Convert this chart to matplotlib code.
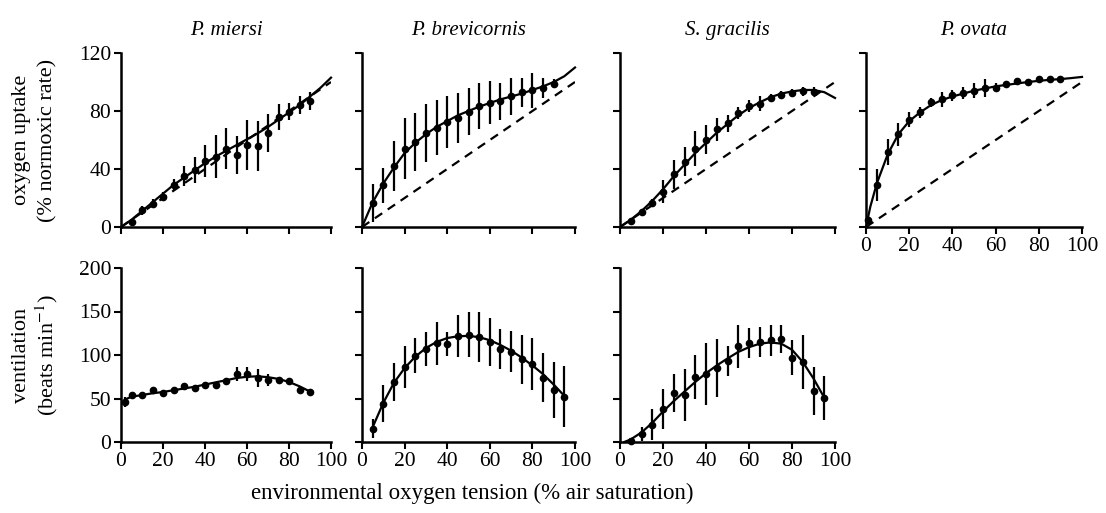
import matplotlib
matplotlib.use("Agg")
import matplotlib.pyplot as plt

plt.rcParams['font.family'] = ['Liberation Serif', 'DejaVu Serif']
plt.rcParams['mathtext.fontset'] = 'stix'

W, H = 1106, 513

species = ["P. miersi", "P. brevicornis", "S. gracilis", "P. ovata"]

# fitted curves, sampled every 5 % air saturation
curve_x = [0, 5, 10, 15, 20, 25, 30, 35, 40, 45, 50, 55, 60, 65, 70, 75, 80, 85, 90, 95, 100]

# --- oxygen uptake (% normoxic rate) ---
up_x = [5, 10, 15, 20, 25, 30, 35, 40, 45, 50, 55, 60, 65, 70, 75, 80, 85, 90]

miersi_up = [3.5, 11.5, 16, 21, 29, 35, 39, 45.7, 48.5, 54, 49.6, 56.5, 55.8, 64.6, 75.7, 79.6, 84, 87]
miersi_up_err = [2, 3, 3, 3, 4, 7, 9, 11, 15, 14, 13, 17, 17, 13, 9, 6, 6, 6]
miersi_up_fit = [0, 5, 11, 17, 23, 29, 34, 39, 44, 48.5, 52.5, 56.5, 60.5, 64.5, 69, 74, 79, 84, 90, 96, 103]

brev_up = [16.6, 28.7, 42, 54, 58.6, 64.5, 68.5, 72.3, 75.1, 79.6, 83.5, 85.7, 86.6, 90, 93, 94.4, 96, 98.8]
brev_up_err = [13, 12, 17, 21, 20, 20, 19, 18, 17, 16, 16, 15, 13, 13, 10, 12, 7, 3]
brev_up_fit = [0, 17, 30, 41, 51, 58, 64, 69, 73, 77, 80, 83, 85.5, 88, 90, 92, 94.5, 97, 100, 104, 110]

grac_up = [4.4, 10, 16.6, 24.3, 36.5, 45, 54, 60, 67.4, 71.4, 78.5, 83.3, 85, 89, 91, 92.4, 93.5, 93.3]
grac_up_err = [2, 2, 3, 8, 10, 10, 12, 10, 8, 6, 4, 4, 5, 3, 3, 3, 3, 3]
grac_up_fit = [0, 5, 11, 18, 26, 35, 43, 51, 58, 65, 71, 77, 82, 86, 89.5, 92, 93.5, 94.5, 94.5, 93, 89]

ovata_x = [1, 5, 10, 15, 20, 25, 30, 35, 40, 45, 50, 55, 60, 65, 70, 75, 80, 85, 90]
ovata_up = [5, 29, 52, 64, 74, 79, 86, 88, 90.7, 92.4, 94, 95.8, 96.2, 98.4, 101, 100, 101.8, 101.8, 101.8]
ovata_up_err = [2, 11, 9, 8, 5, 4, 3, 5, 4, 4, 5, 6, 3, 2, 2, 2, 2, 2, 2]
ovata_fit_x = [0, 2, 5, 10, 15, 20, 25, 30, 35, 40, 45, 50, 55, 60, 65, 70, 75, 80, 85, 90, 95, 100]
ovata_up_fit = [0, 14, 30, 50, 64, 73, 79, 84, 87.5, 90, 92, 94, 95.5, 97, 98, 99, 100, 100.8, 101.5, 102, 102.7, 103.5]

# --- ventilation (beats min-1) ---
miersi_v_x = [2, 5, 10, 15, 20, 25, 30, 35, 40, 45, 50, 55, 60, 65, 70, 75, 80, 85, 90]
miersi_v = [46, 54, 54.5, 59.5, 56.5, 59.5, 64, 61.5, 66, 66, 70, 78.6, 78.6, 73.7, 71, 71, 70, 59.5, 57.6]
miersi_v_err = [6, 3, 3, 3, 3, 3, 4, 3, 3, 3, 4, 8, 8, 10, 7, 4, 3, 3, 3]
miersi_v_fit_x = [2, 5, 10, 15, 20, 25, 30, 35, 40, 45, 50, 55, 60, 65, 70, 75, 80, 85, 90]
miersi_v_fit = [49, 52, 54, 56, 57.5, 59.5, 61.5, 63.5, 66, 68.5, 71, 73.5, 75, 75.5, 74.5, 72.5, 69, 64, 58]

vent_x = [5, 10, 15, 20, 25, 30, 35, 40, 45, 50, 55, 60, 65, 70, 75, 80, 85, 90, 95]

brev_v = [15.4, 44, 69, 86.5, 99, 107, 113.5, 112.7, 121.5, 123.5, 120.4, 115, 107, 104, 95, 90, 74, 60, 52]
brev_v_err = [11, 21, 22, 24, 20, 20, 25, 14, 24, 26, 29, 28, 23, 24, 28, 30, 28, 32, 35]
brev_v_fit = [17, 45, 68, 85, 98, 108, 115, 119.5, 121.5, 122, 120.5, 117, 111.5, 105, 97, 88, 78, 66, 53]

grac_v = [1, 9, 20, 38, 56, 54, 75, 78, 85, 93, 110, 114, 115, 117, 118, 97, 91.5, 58.5, 50.7]
grac_v_err = [2, 8, 18, 23, 22, 30, 25, 36, 33, 17, 25, 17, 17, 18, 16, 20, 31, 28, 25]
grac_v_fit_x = [2, 5, 10, 15, 20, 25, 30, 35, 40, 45, 50, 55, 60, 65, 70, 75, 80, 85, 90, 95]
grac_v_fit = [0, 3, 11, 22, 35, 47, 58, 69, 79, 88, 96, 103.5, 109, 113, 114.5, 113, 106, 92, 73, 51]

# panel boxes in pixels: left, right
cols = [(121, 331), (362, 575), (620, 835), (866, 1082)]
top_row = (53, 227)
bot_row = (268, 442)

TICK_FS = 15.5
LABEL_FS = 16


def make_ax(col, row):
    l, r = cols[col]
    t, b = row
    ax = fig.add_axes([l / W, 1 - b / H, (r - l) / W, (b - t) / H])
    ax.spines['top'].set_visible(False)
    ax.spines['right'].set_visible(False)
    ax.spines['left'].set_linewidth(1.8)
    ax.spines['bottom'].set_linewidth(1.8)
    ax.tick_params(direction='out', length=5, width=1.5, labelsize=TICK_FS, pad=2)
    ax.set_xlim(0, 100)
    ax.set_xticks([0, 20, 40, 60, 80, 100])
    return ax


def draw(ax, x, y, err, fx, fy):
    ax.errorbar(x, y, yerr=err, fmt='o', color='black', ms=4.5, elinewidth=1.6,
                capsize=0, clip_on=False, zorder=3)
    ax.plot(fx, fy, color='black', lw=1.6, clip_on=False, zorder=4)


fig = plt.figure(figsize=(W / 100, H / 100), dpi=100)

up_data = [
    (up_x, miersi_up, miersi_up_err, curve_x, miersi_up_fit),
    (up_x, brev_up, brev_up_err, curve_x, brev_up_fit),
    (up_x, grac_up, grac_up_err, curve_x, grac_up_fit),
    (ovata_x, ovata_up, ovata_up_err, ovata_fit_x, ovata_up_fit),
]

for i, (x, y, e, fx, fy) in enumerate(up_data):
    ax = make_ax(i, top_row)
    ax.plot([0, 100], [0, 100], color='black', lw=1.6, ls=(0, (4, 3)), zorder=2)
    draw(ax, x, y, e, fx, fy)
    ax.set_ylim(0, 120)
    ax.set_yticks([0, 40, 80, 120])
    if i > 0:
        ax.set_yticklabels([])
    if i < 3:
        ax.set_xticklabels([])
    ax.set_title(species[i], fontstyle='italic', fontsize=15, pad=13)

vent_data = [
    (miersi_v_x, miersi_v, miersi_v_err, miersi_v_fit_x, miersi_v_fit),
    (vent_x, brev_v, brev_v_err, vent_x, brev_v_fit),
    (vent_x, grac_v, grac_v_err, grac_v_fit_x, grac_v_fit),
]

for i, (x, y, e, fx, fy) in enumerate(vent_data):
    ax = make_ax(i, bot_row)
    draw(ax, x, y, e, fx, fy)
    ax.set_ylim(0, 200)
    ax.set_yticks([0, 50, 100, 150, 200])
    if i > 0:
        ax.set_yticklabels([])

# y axis titles (two lines each)
fig.text(22 / W, 1 - 140 / H, "oxygen uptake", rotation=90, ha='center', va='center',
         fontsize=LABEL_FS)
fig.text(48 / W, 1 - 140 / H, "(% normoxic rate)", rotation=90, ha='center', va='center',
         fontsize=LABEL_FS)
fig.text(22 / W, 1 - 355 / H, "ventilation", rotation=90, ha='center', va='center',
         fontsize=LABEL_FS)
fig.text(47 / W, 1 - 355 / H, "(beats min$^{-1}$)", rotation=90, ha='center', va='center',
         fontsize=LABEL_FS)

fig.text(472 / W, 1 - 493 / H, "environmental oxygen tension (% air saturation)",
         ha='center', va='center', fontsize=16.5)

fig.savefig("out.png", dpi=100)
